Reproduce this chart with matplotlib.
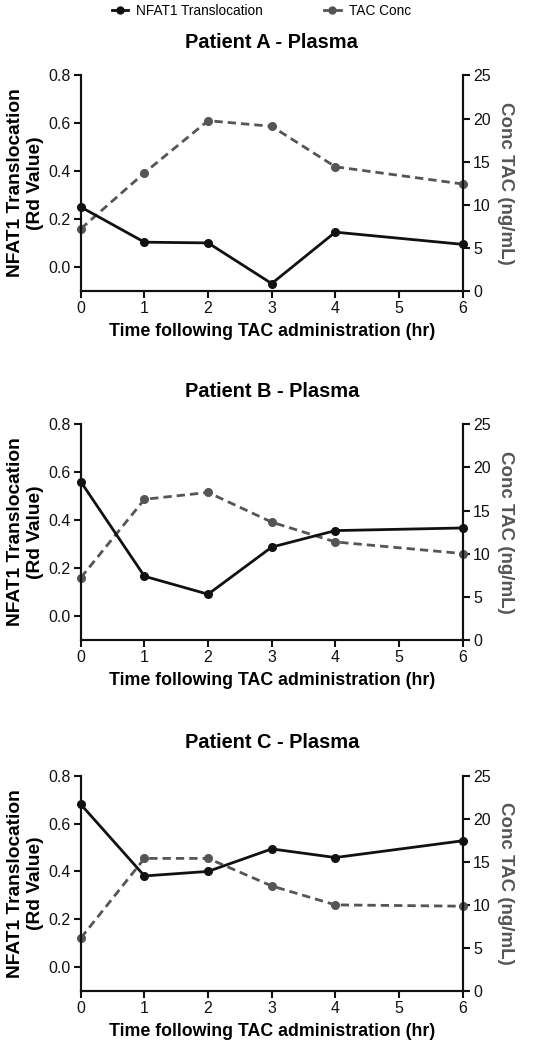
import matplotlib.pyplot as plt
from matplotlib.lines import Line2D

plt.rcParams['font.family'] = ['Liberation Sans', 'DejaVu Sans']

# time points (hr)
hours = [0, 1, 2, 3, 4, 6]

patients = ['Patient A - Plasma', 'Patient B - Plasma', 'Patient C - Plasma']

# NFAT1 translocation (Rd value), left axis
nfat_a = [0.25, 0.103, 0.10, -0.07, 0.145, 0.094]
nfat_b = [0.56, 0.165, 0.09, 0.287, 0.356, 0.367]
nfat_c = [0.68, 0.381, 0.40, 0.494, 0.458, 0.528]

# TAC concentration (ng/mL), right axis
tac_a = [7.2, 13.7, 19.75, 19.1, 14.4, 12.4]
tac_b = [7.2, 16.3, 17.1, 13.65, 11.35, 10.0]
tac_c = [6.15, 15.4, 15.4, 12.2, 10.0, 9.85]

nfat_all = [nfat_a, nfat_b, nfat_c]
tac_all = [tac_a, tac_b, tac_c]

left_ticks = [0.0, 0.2, 0.4, 0.6, 0.8]
right_ticks = [0, 5, 10, 15, 20, 25]
x_ticks = [0, 1, 2, 3, 4, 5, 6]

black = '#111111'
grey = '#555555'

fig = plt.figure(figsize=(5.5, 10.5), dpi=100)

bottoms = [0.7231, 0.3908, 0.0562]
for i in range(3):
    ax = fig.add_axes([0.147, bottoms[i], 0.694, 0.205])
    ax2 = ax.twinx()

    ax2.plot(hours, tac_all[i], color=grey, lw=2, ls=(0, (3, 1.8)),
             marker='o', ms=5.5, clip_on=False, zorder=2)
    ax.plot(hours, nfat_all[i], color=black, lw=2, marker='o', ms=5.5,
            clip_on=False, zorder=3)
    ax.set_zorder(ax2.get_zorder() + 1)
    ax.patch.set_visible(False)

    ax.set_xlim(0, 6)
    ax.set_ylim(-0.1, 0.8)
    ax2.set_ylim(0, 25)
    ax.set_xticks(x_ticks)
    ax.set_yticks(left_ticks)
    ax.set_yticklabels(['%.1f' % v for v in left_ticks])
    ax2.set_yticks(right_ticks)

    for a in (ax, ax2):
        a.spines['top'].set_visible(False)
        for s in ('left', 'right', 'bottom'):
            a.spines[s].set_linewidth(1.5)
            a.spines[s].set_color(black)
        a.tick_params(direction='out', length=5, width=1.5, labelsize=11.5,
                      colors=black, pad=2.5)

    ax.set_xlabel('Time following TAC administration (hr)', fontsize=12.8,
                  fontweight='bold', labelpad=5)
    ax.set_ylabel('NFAT1 Translocation\n(Rd Value)', fontsize=13.8,
                  fontweight='bold', linespacing=1.2, labelpad=3)
    ax2.set_ylabel('Conc TAC (ng/mL)', fontsize=13.5, fontweight='bold',
                   color='#555555', rotation=270, labelpad=17)
    ax.set_title(patients[i], fontsize=14.4, fontweight='bold', pad=20)

handles = [Line2D([], [], color=black, lw=2, marker='o', ms=5),
           Line2D([], [], color=grey, lw=2, marker='o', ms=5)]
fig.legend(handles, ['NFAT1 Translocation', 'TAC Conc'], loc='upper center',
           bbox_to_anchor=(0.475, 1.008), ncol=2, frameon=False, fontsize=9.8,
           handlelength=1.2, handletextpad=0.6, columnspacing=4.5)

fig.savefig('out.png', dpi=100)
